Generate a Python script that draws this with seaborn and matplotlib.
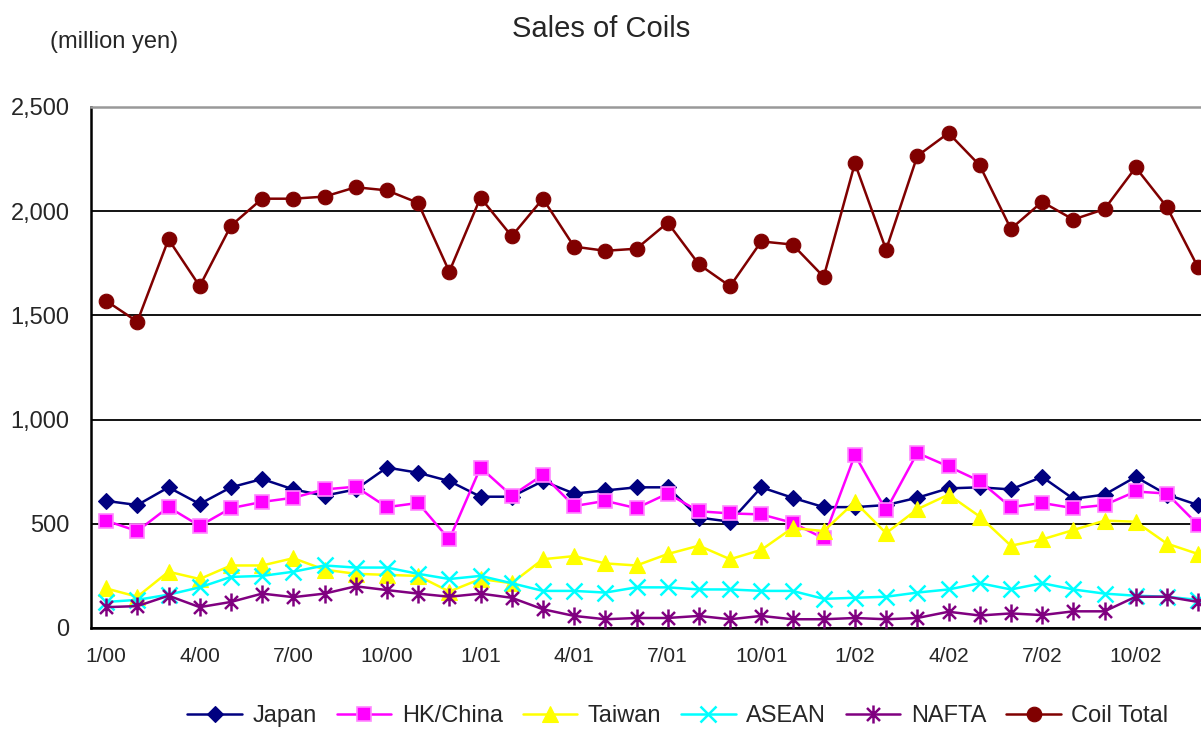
import numpy as np
import pandas as pd
import matplotlib
matplotlib.use("Agg")
import matplotlib.pyplot as plt
from matplotlib.path import Path
from matplotlib.ticker import FuncFormatter, FixedLocator
import seaborn as sns

# Monthly sales by region, Jan 2000 - Dec 2002 (million yen)
months = list(range(36))
tick_positions = [0, 3, 6, 9, 12, 15, 18, 21, 24, 27, 30, 33]
tick_labels = ["1/00", "4/00", "7/00", "10/00",
               "1/01", "4/01", "7/01", "10/01",
               "1/02", "4/02", "7/02", "10/02"]

japan = [610, 590, 675, 595, 675, 715, 665, 635, 665, 770, 745, 705,
         630, 630, 705, 645, 660, 675, 675, 530, 510, 675, 625, 580,
         580, 590, 625, 670, 675, 665, 725, 620, 640, 725, 640, 590]
hk_china = [515, 465, 580, 490, 575, 605, 625, 665, 678, 580, 600, 425,
            770, 635, 735, 585, 610, 575, 645, 560, 550, 545, 505, 430,
            830, 565, 840, 775, 705, 580, 600, 575, 590, 655, 645, 495]
taiwan = [190, 150, 270, 235, 300, 300, 335, 280, 260, 255, 250, 175,
          235, 215, 330, 345, 310, 300, 355, 395, 330, 375, 480, 465,
          605, 455, 570, 640, 535, 395, 425, 470, 515, 510, 405, 355]
asean = [125, 135, 160, 195, 245, 250, 270, 300, 290, 290, 260, 235,
         250, 215, 178, 178, 170, 195, 195, 185, 185, 178, 178, 140,
         145, 150, 170, 185, 215, 185, 215, 185, 165, 155, 150, 135]
nafta = [100, 105, 155, 100, 125, 165, 148, 165, 200, 182, 165, 150,
         165, 145, 90, 58, 42, 48, 48, 58, 42, 58, 42, 42,
         48, 42, 48, 78, 60, 70, 62, 80, 80, 150, 150, 125]
coil_total = [1570, 1470, 1865, 1640, 1930, 2060, 2060, 2070, 2115, 2100, 2040, 1710,
              2065, 1880, 2060, 1830, 1810, 1820, 1945, 1745, 1640, 1855, 1840, 1685,
              2230, 1815, 2265, 2375, 2220, 1915, 2045, 1960, 2010, 2210, 2020, 1730]

sns.set_style("white")
plt.rcParams["font.family"] = ["Liberation Sans", "DejaVu Sans"]

# asterisk marker: vertical stroke plus an X
asterisk = Path([(0, -1), (0, 1), (-0.72, -0.72), (0.72, 0.72), (-0.72, 0.72), (0.72, -0.72)],
                [Path.MOVETO, Path.LINETO, Path.MOVETO, Path.LINETO, Path.MOVETO, Path.LINETO])

series = [
    ("Japan", japan, dict(color="#000080", marker="D", markersize=8.5,
                          markerfacecolor="#000080", markeredgecolor="#000080",
                          markeredgewidth=0.8)),
    ("HK/China", hk_china, dict(color="#FF00FF", marker="s", markersize=10,
                                markerfacecolor="#FF00FF", markeredgecolor="#FF88FF",
                                markeredgewidth=1.2)),
    ("Taiwan", taiwan, dict(color="#FFFF00", marker="^", markersize=11,
                            markerfacecolor="#FFFF00", markeredgecolor="#FFFF00",
                            markeredgewidth=0.8)),
    ("ASEAN", asean, dict(color="#00FFFF", marker="x", markersize=11,
                          markerfacecolor="#00FFFF", markeredgecolor="#00FFFF",
                          markeredgewidth=1.8)),
    ("NAFTA", nafta, dict(color="#800080", marker=asterisk, markersize=13,
                          markerfacecolor="none", markeredgecolor="#800080",
                          markeredgewidth=1.8)),
    ("Coil Total", coil_total, dict(color="#800000", marker="o", markersize=10.5,
                                    markerfacecolor="#800000", markeredgecolor="#800000",
                                    markeredgewidth=0.8)),
]

fig = plt.figure(figsize=(12.01, 7.29), dpi=100)
ax = fig.add_axes([90.5 / 1201, 101 / 729, 1123.2 / 1201, 521 / 729])

for z, (name, vals, style) in enumerate(series):
    df = pd.DataFrame({"month": months, "value": vals})
    sns.lineplot(data=df, x="month", y="value", ax=ax, label=name,
                 linewidth=1.8, zorder=3 + z, **style)

ax.set_xlim(-0.5, 35.5)
ax.set_ylim(0, 2500)
ax.set_yticks([0, 500, 1000, 1500, 2000, 2500])
ax.yaxis.set_major_formatter(FuncFormatter(lambda v, p: f"{int(v):,}"))
ax.set_xticks(tick_positions)
ax.set_xticklabels(tick_labels)
ax.xaxis.set_minor_locator(FixedLocator(np.arange(-0.5, 36, 1.0)))
ax.tick_params(axis="x", which="major", length=0, pad=14, labelsize=15)
ax.tick_params(axis="x", which="minor", direction="in", length=6, width=1.3, color="black")
ax.tick_params(axis="y", which="major", direction="in", length=7, width=1.3,
               color="black", pad=15, labelsize=17)
ax.set_xlabel("")
ax.set_ylabel("")

ax.yaxis.grid(True, color="black", linewidth=1.3)
ax.set_axisbelow(True)
for side in ("left", "bottom"):
    ax.spines[side].set_color("black")
    ax.spines[side].set_linewidth(1.8)
ax.spines["top"].set_color("#999999")
ax.spines["top"].set_linewidth(1.8)
ax.spines["right"].set_visible(False)

fig.text(601 / 1201, 1 - 29 / 729, "Sales of Coils", ha="center", va="center", fontsize=21)
fig.text(114 / 1201, 1 - 42 / 729, "(million yen)", ha="center", va="center", fontsize=17)

leg = ax.legend(loc="center", bbox_to_anchor=(678 / 1201, 1 - 716 / 729),
                bbox_transform=fig.transFigure, ncol=6, frameon=False, fontsize=17,
                handlelength=2.3, handletextpad=0.45, columnspacing=0.85,
                borderpad=0, borderaxespad=0)

fig.savefig("out.png", dpi=100)
